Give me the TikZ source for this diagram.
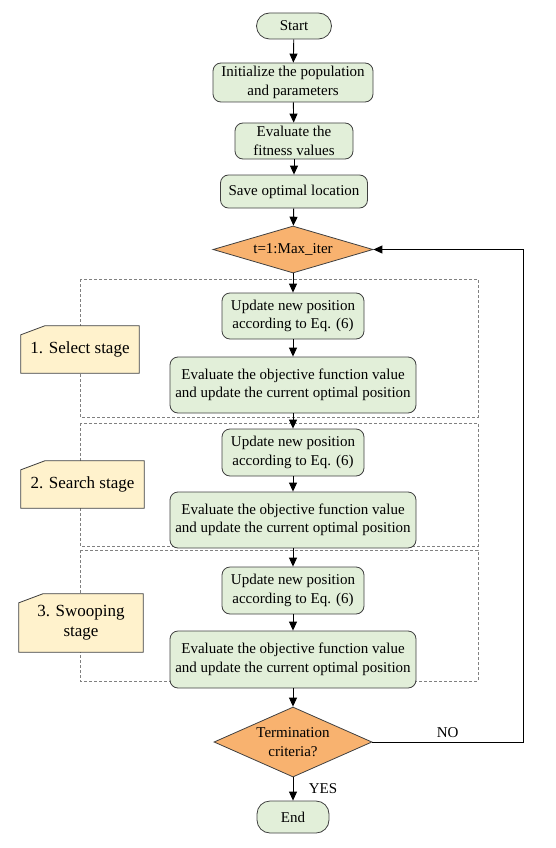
\documentclass[tikz,border=0pt]{standalone}
\usepackage{fontspec}
\setmainfont{Liberation Serif}
\usepackage{xcolor}
\usetikzlibrary{arrows.meta}
\usetikzlibrary{shapes.geometric}
\definecolor{boxgreen}{HTML}{E2EFD9}
\definecolor{diaorange}{HTML}{F8B26F}
\definecolor{noteyellow}{HTML}{FFF2CC}
\definecolor{edgegray}{HTML}{404040}
\pgfdeclarelayer{frames}
\pgfdeclarelayer{notes}
\pgfsetlayers{frames,notes,main}

\begin{document}
\begin{tikzpicture}[x=1pt,y=-1pt,
  proc/.style={draw=edgegray, fill=boxgreen, rounded corners=8pt, inner sep=0pt,
    align=center, line width=0.8pt, font=\fontsize{15}{18.5}\selectfont},
  term/.style={proc, rounded corners=13pt},
  decide/.style={diamond, draw=edgegray, fill=diaorange, inner sep=0pt,
    align=center, line width=0.8pt, font=\fontsize{15}{18.5}\selectfont},
  stagenote/.style={inner sep=0pt, align=center, font=\fontsize{17}{20}\selectfont},
  notepaper/.style={draw=edgegray, fill=noteyellow, line width=0.8pt},
  stagebox/.style={draw=gray, dash pattern=on 3pt off 2pt, line width=0.6pt},
  flow/.style={-{Triangle[width=8pt,length=9pt]}, line width=0.9pt}
]
\useasboundingbox (0,0) rectangle (556,848);

% stage frames
\begin{pgfonlayer}{frames}
\draw[stagebox] (80,279) rectangle (478,417);
\draw[stagebox] (80,423) rectangle (478,546);
\draw[stagebox] (80,550) rectangle (478,681);
\end{pgfonlayer}

\node[term, minimum width=75pt, minimum height=26pt] (start) at (294,26) {Start};
\node[proc, minimum width=160pt, minimum height=39pt] (init) at (293,82.5) {Initialize the population\\and parameters};
\node[proc, minimum width=118pt, minimum height=36pt] (fit) at (294,141) {Evaluate the\\fitness values};
\node[proc, minimum width=147pt, minimum height=33pt] (save) at (294,191.5) {Save optimal location};
\node[decide, aspect=3.4, minimum width=160pt, minimum height=47pt] (loop) at (293,249.5) {t=1:Max\_iter};

\node[proc, minimum width=142pt, minimum height=46pt] (upd1) at (293,316) {Update new position\\according to Eq. (6)};
\node[proc, minimum width=246pt, minimum height=56pt] (eval1) at (293,385) {Evaluate the objective function value\\and update the current optimal position};
\node[proc, minimum width=142pt, minimum height=47pt] (upd2) at (293,452.5) {Update new position\\according to Eq. (6)};
\node[proc, minimum width=246pt, minimum height=56pt] (eval2) at (293,520) {Evaluate the objective function value\\and update the current optimal position};
\node[proc, minimum width=142pt, minimum height=47pt] (upd3) at (293,590.5) {Update new position\\according to Eq. (6)};
\node[proc, minimum width=246pt, minimum height=57pt] (eval3) at (293,659.5) {Evaluate the objective function value\\and update the current optimal position};

\node[decide, aspect=2.2, minimum width=158pt, minimum height=70pt] (crit) at (293,742) {Termination\\criteria?};
\node[term, minimum width=72pt, minimum height=32pt] (end) at (293,817) {End};

\node[stagenote, minimum width=118pt, minimum height=47pt] (sel) at (80,349.5) {1. Select stage};
\node[stagenote, minimum width=123pt, minimum height=47pt] (srch) at (82.5,484.5) {2. Search stage};
\node[stagenote, minimum width=124pt, minimum height=58pt] (swoop) at (81,623) {3. Swooping\\stage};

% note papers with a cut corner
\begin{pgfonlayer}{notes}
\foreach \n in {sel,srch,swoop}
  \draw[notepaper] (\n.south west) -- ([yshift=-9pt]\n.north west) -- ([xshift=24pt]\n.north west)
    -- (\n.north east) -- (\n.south east) -- cycle;
\end{pgfonlayer}

\draw[flow] (start) -- (init);
\draw[flow] (init) -- (fit);
\draw[flow] (fit) -- (save);
\draw[flow] (save) -- (loop);
\draw[flow] (loop) -- (upd1);
\draw[flow] (upd1) -- (eval1);
\draw[flow] (eval1) -- (upd2);
\draw[flow] (upd2) -- (eval2);
\draw[flow] (eval2) -- (upd3);
\draw[flow] (upd3) -- (eval3);
\draw[flow] (eval3) -- (crit);
\draw[flow] (crit) -- node[midway, right=12pt, font=\fontsize{15}{18}\selectfont] {YES} (end);

\coordinate (back1) at (523,742);
\coordinate (back2) at (523,249.5);
\draw[flow] (crit.east) -- node[midway, above=1pt, font=\fontsize{15}{18}\selectfont] {NO} (back1) -- (back2) -- (loop.east);
\end{tikzpicture}
\end{document}
